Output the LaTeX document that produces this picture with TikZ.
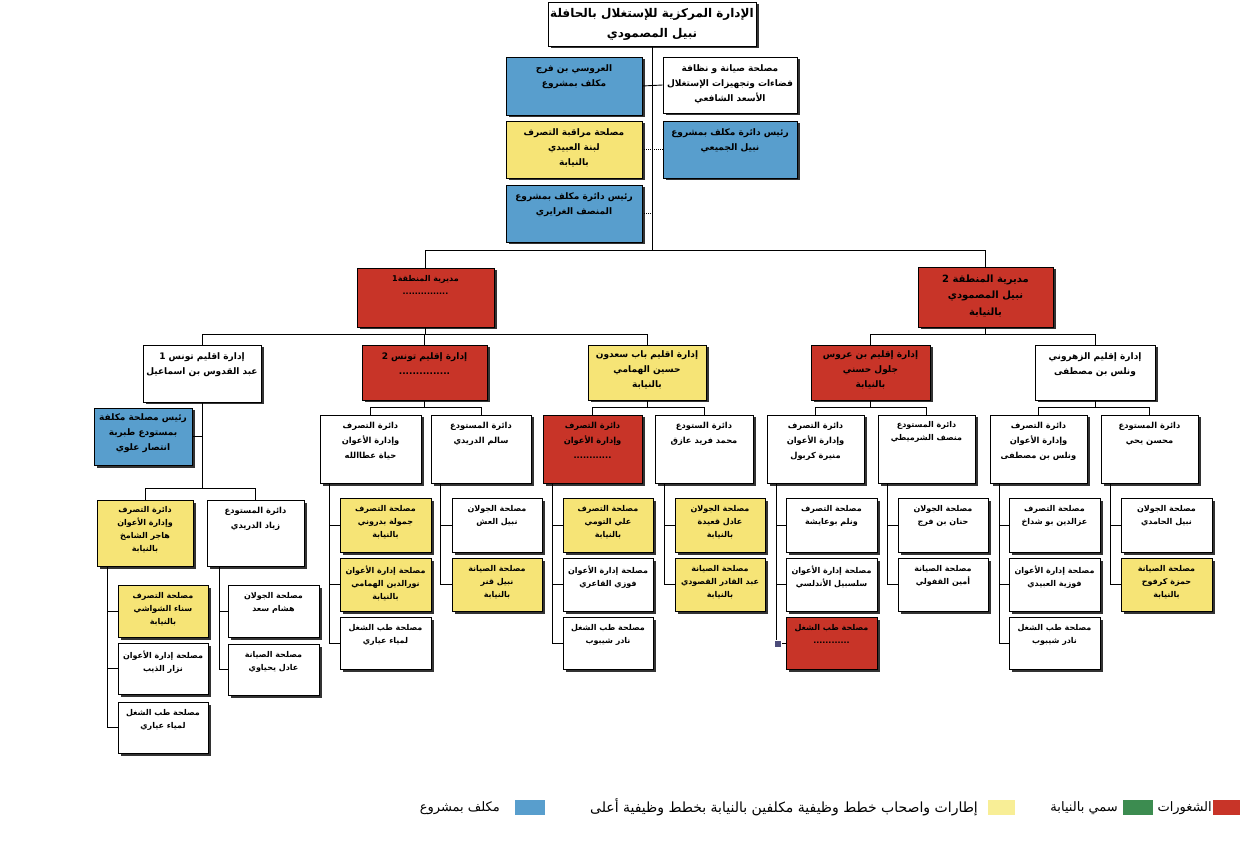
\documentclass[tikz,border=0pt]{standalone}
\usepackage{fontspec}
\newfontfamily\arabicfont[Script=Arabic]{DejaVu Sans}
\TeXXeTstate=1
\usetikzlibrary{shadows,fit}
\definecolor{cred}{RGB}{200,52,40}
\definecolor{cyel}{RGB}{246,228,118}
\definecolor{cblue}{RGB}{88,158,205}
\definecolor{cgreen}{RGB}{60,140,80}
\definecolor{clyel}{RGB}{248,238,150}
\newcommand\AR[1]{\beginR #1\endR}
\tikzset{
  boxbase/.style={draw=black,line width=0.7pt,inner sep=0pt,
    drop shadow={shadow xshift=2.5pt,shadow yshift=-2.5pt,fill=black!80,opacity=1}},
  txt/.style={anchor=north,align=center,inner sep=0pt,
    font=\arabicfont\bfseries\fontsize{8}{13}\selectfont},
  txtA/.style={txt,font=\arabicfont\bfseries\fontsize{8.3}{15}\selectfont},
  txtB/.style={txt,font=\arabicfont\bfseries\fontsize{9}{15}\selectfont},
  bigtxt/.style={txt,font=\arabicfont\bfseries\fontsize{12}{20}\selectfont},
  midtxt/.style={txt,font=\arabicfont\bfseries\fontsize{10}{16.5}\selectfont},
  conn/.style={draw=black,line width=0.9pt},
  dconn/.style={conn,densely dotted},
  legtxt/.style={anchor=east,inner sep=0pt,font=\arabicfont\fontsize{13}{15}\selectfont},
  legsq/.style={inner sep=0pt,draw=none},
}
% name, x1,y1,x2,y2, fill, text, text style, yshift
\newcommand\obox[9]{%
  \node[boxbase,#6,fit={(#2,#3) (#4,#5)}] (#1) {};
  \node[#8] (#1t) at ([yshift=-#9pt]#1.north) {#7};}
\begin{document}
\begin{tikzpicture}[x=1pt,y=-1pt]
\useasboundingbox[fill=white] (0,0) rectangle (1254,842);

% ---------- top ----------
\obox{title}{548}{2}{756}{46}{fill=white}{\AR{الإدارة المركزية للإستغلال بالحافلة}\\\AR{نبيل المصمودي}}{bigtxt}{7}
\coordinate (bus) at (652,250);
\draw[conn] (title.south) -- (bus);

\obox{B1}{506}{57}{642}{115}{fill=cblue}{\AR{العروسي بن فرج}\\\AR{مكلف بمشروع}}{txtB}{8}
\obox{W1}{663}{57}{797}{113}{fill=white}{\AR{مصلحة صيانة و نظافة}\\\AR{فضاءات وتجهيزات الإستغلال}\\\AR{الأسعد الشافعي}}{txtB}{8}
\obox{Y1}{506}{121}{642}{178}{fill=cyel}{\AR{مصلحة مراقبة التصرف}\\\AR{لبنة العبيدي}\\\AR{بالنيابة}}{txtB}{8}
\obox{B2}{663}{121}{797}{178}{fill=cblue}{\AR{رئيس دائرة مكلف بمشروع}\\\AR{نبيل الجميعي}}{txtB}{8}
\obox{B3}{506}{185}{642}{242}{fill=cblue}{\AR{رئيس دائرة مكلف بمشروع}\\\AR{المنصف الغرايري}}{txtB}{8}
\draw[conn] (B1.east) -- (W1.west);
\draw[dconn] (Y1.east) -- (Y1.east -| title.south);
\draw[dconn] (B2.west) -- (B2.west -| title.south);
\draw[dconn] (B3.east) -- (B3.east -| title.south);

% ---------- regions ----------
\obox{R1}{357}{268}{494}{327}{fill=cred}{\AR{مديرية المنطقة1}\\\AR{...............}}{txt}{8}
\obox{R2}{918}{267}{1053}{327}{fill=cred}{\AR{مديرية المنطقة 2}\\\AR{نبيل المصمودي}\\\AR{بالنيابة}}{midtxt}{8}
\draw[conn] (bus) -| (R1.north);
\draw[conn] (bus) -| (R2.north);

% ---------- level 3 ----------
\obox{T1}{143}{345}{261}{402}{fill=white}{\AR{إدارة اقليم تونس 1}\\\AR{عبد القدوس بن اسماعيل}}{txtB}{8}
\obox{T2}{362}{345}{487}{400}{fill=cred}{\AR{إدارة إقليم تونس 2}\\\AR{...............}}{txtB}{8}
\obox{BS}{588}{345}{706}{400}{fill=cyel}{\AR{إدارة اقليم باب سعدون}\\\AR{حسين الهمامي}\\\AR{بالنيابة}}{txtB}{6}
\obox{BA}{811}{345}{930}{400}{fill=cred}{\AR{إدارة إقليم بن عروس}\\\AR{جلول حسني}\\\AR{بالنيابة}}{txtB}{6}
\obox{ZH}{1035}{345}{1155}{400}{fill=white}{\AR{إدارة إقليم الزهروني}\\\AR{ونلس بن مصطفى}}{txtB}{8}
\draw[conn] (R1.south) -- ++(0,7) -| (T1.north);
\draw[conn] (R1.south) -- ++(0,7) -| (T2.north);
\draw[conn] (R1.south) -- ++(0,7) -| (BS.north);
\draw[conn] (R2.south) -- ++(0,7) -| (BA.north);
\draw[conn] (R2.south) -- ++(0,7) -| (ZH.north);

% ---------- Tunis 1 subtree ----------
\obox{T1c}{94}{408}{192}{465}{fill=cblue}{\AR{رئيس مصلحة مكلفة}\\\AR{بمستودع طبربة}\\\AR{انتصار علوي}}{txtB}{6}
\draw[conn] (T1c.east) -- (T1c.east -| T1.south);
\obox{T1a}{97}{500}{193}{566}{fill=cyel}{\AR{دائرة التصرف}\\\AR{وإدارة الأعوان}\\\AR{هاجر الشامخ}\\\AR{بالنيابة}}{txt}{7}
\obox{T1b}{207}{500}{304}{566}{fill=white}{\AR{دائرة المستودع}\\\AR{زياد الدريدي}}{txtA}{7}
\draw[conn] (T1.south) -- ++(0,86) -| (T1a.north);
\draw[conn] (T1.south) -- ++(0,86) -| (T1b.north);
\obox{T1a1}{118}{585}{208}{637}{fill=cyel}{\AR{مصلحة التصرف}\\\AR{سناء الشواشي}\\\AR{بالنيابة}}{txt}{8}
\obox{T1a2}{118}{643}{208}{694}{fill=white}{\AR{مصلحة إدارة الأعوان}\\\AR{نزار الذيب}}{txt}{8}
\obox{T1a3}{118}{702}{208}{753}{fill=white}{\AR{مصلحة طب الشغل}\\\AR{لمياء عياري}}{txt}{8}
\obox{T1b1}{228}{585}{319}{637}{fill=white}{\AR{مصلحة الجولان}\\\AR{هشام سعد}}{txt}{8}
\obox{T1b2}{228}{644}{319}{695}{fill=white}{\AR{مصلحة الصيانة}\\\AR{عادل يحياوي}}{txt}{8}
\foreach \c in {T1a1,T1a2,T1a3}{\draw[conn] (\c.west) -| ([xshift=11pt]T1a.south west);}
\foreach \c in {T1b1,T1b2}{\draw[conn] (\c.west) -| ([xshift=13pt]T1b.south west);}

% ---------- level 4 ----------
\obox{T2a}{320}{415}{421}{483}{fill=white}{\AR{دائرة التصرف}\\\AR{وإدارة الأعوان}\\\AR{حياة عطاالله}}{txtA}{7}
\obox{T2b}{431}{415}{531}{483}{fill=white}{\AR{دائرة المستودع}\\\AR{سالم الدريدي}}{txtA}{7}
\obox{BSa}{543}{415}{642}{483}{fill=cred}{\AR{دائرة التصرف}\\\AR{وإدارة الأعوان}\\\AR{............}}{txtA}{7}
\obox{BSb}{655}{415}{753}{483}{fill=white}{\AR{دائرة الستودع}\\\AR{محمد فريد عازق}}{txtA}{7}
\obox{BAa}{767}{415}{864}{483}{fill=white}{\AR{دائرة التصرف}\\\AR{وإدارة الأعوان}\\\AR{منيرة كربول}}{txtA}{7}
\obox{BAb}{878}{415}{975}{483}{fill=white}{\AR{دائرة المستودع}\\\AR{منصف الشرميطي}}{txt}{7}
\obox{ZHa}{990}{415}{1087}{483}{fill=white}{\AR{دائرة التصرف}\\\AR{وإدارة الأعوان}\\\AR{ونلس بن مصطفى}}{txtA}{7}
\obox{ZHb}{1101}{415}{1198}{483}{fill=white}{\AR{دائرة المستودع}\\\AR{محسن يحي}}{txtA}{7}
\foreach \p/\a/\b in {T2/T2a/T2b,BS/BSa/BSb,BA/BAa/BAb,ZH/ZHa/ZHb}{
  \draw[conn] (\p.south) -- ++(0,7) -| (\a.north);
  \draw[conn] (\p.south) -- ++(0,7) -| (\b.north);}

% ---------- level 5 ----------
\obox{T2a1}{340}{498}{431}{552}{fill=cyel}{\AR{مصلحة التصرف}\\\AR{جمولة بدروني}\\\AR{بالنيابة}}{txt}{8}
\obox{T2a2}{340}{558}{431}{611}{fill=cyel}{\AR{مصلحة إدارة الأعوان}\\\AR{نورالدين الهمامي}\\\AR{بالنيابة}}{txt}{8}
\obox{T2a3}{340}{617}{431}{669}{fill=white}{\AR{مصلحة طب الشغل}\\\AR{لمياء عياري}}{txt}{8}
\obox{T2b1}{452}{498}{542}{552}{fill=white}{\AR{مصلحة الجولان}\\\AR{نبيل العش}}{txt}{8}
\obox{T2b2}{452}{558}{542}{611}{fill=cyel}{\AR{مصلحة الصيانة}\\\AR{نبيل قنر}\\\AR{بالنيابة}}{txt}{8}
\obox{BSa1}{563}{498}{653}{552}{fill=cyel}{\AR{مصلحة التصرف}\\\AR{علي التومي}\\\AR{بالنيابة}}{txt}{8}
\obox{BSa2}{563}{558}{653}{611}{fill=white}{\AR{مصلحة إدارة الأعوان}\\\AR{فوزي القاعري}}{txt}{8}
\obox{BSa3}{563}{617}{653}{669}{fill=white}{\AR{مصلحة طب الشغل}\\\AR{نادر شيبوب}}{txt}{8}
\obox{BSb1}{675}{498}{765}{552}{fill=cyel}{\AR{مصلحة الجولان}\\\AR{عادل قعيدة}\\\AR{بالنيابة}}{txt}{8}
\obox{BSb2}{675}{558}{765}{611}{fill=cyel}{\AR{مصلحة الصيانة}\\\AR{عبد القادر القصودي}\\\AR{بالنيابة}}{txt}{8}
\obox{BAa1}{786}{498}{877}{552}{fill=white}{\AR{مصلحة التصرف}\\\AR{ونلم بوعايشة}}{txt}{8}
\obox{BAa2}{786}{558}{877}{611}{fill=white}{\AR{مصلحة إدارة الأعوان}\\\AR{سلسبيل الأندلسي}}{txt}{8}
\obox{BAa3}{786}{617}{877}{669}{fill=cred}{\AR{مصلحة طب الشغل}\\\AR{............}}{txt}{8}
\obox{BAb1}{898}{498}{988}{552}{fill=white}{\AR{مصلحة الجولان}\\\AR{حنان بن فرج}}{txt}{8}
\obox{BAb2}{898}{558}{988}{611}{fill=white}{\AR{مصلحة الصيانة}\\\AR{أمين القفولي}}{txt}{8}
\obox{ZHa1}{1009}{498}{1100}{552}{fill=white}{\AR{مصلحة التصرف}\\\AR{عزالدين بو شداخ}}{txt}{8}
\obox{ZHa2}{1009}{558}{1100}{611}{fill=white}{\AR{مصلحة إدارة الأعوان}\\\AR{فوزية العبيدي}}{txt}{8}
\obox{ZHa3}{1009}{617}{1100}{669}{fill=white}{\AR{مصلحة طب الشغل}\\\AR{نادر شيبوب}}{txt}{8}
\obox{ZHb1}{1121}{498}{1212}{552}{fill=white}{\AR{مصلحة الجولان}\\\AR{نبيل الحامدي}}{txt}{8}
\obox{ZHb2}{1121}{558}{1212}{611}{fill=cyel}{\AR{مصلحة الصيانة}\\\AR{حمزة كرفوح}\\\AR{بالنيابة}}{txt}{8}
\foreach \p/\cs in {T2a/{T2a1,T2a2,T2a3},T2b/{T2b1,T2b2},BSa/{BSa1,BSa2,BSa3},BSb/{BSb1,BSb2},
  BAa/{BAa1,BAa2,BAa3},BAb/{BAb1,BAb2},ZHa/{ZHa1,ZHa2,ZHa3},ZHb/{ZHb1,ZHb2}}{
  \foreach \c in \cs {\draw[conn] (\c.west) -| ([xshift=10pt]\p.south west);}}
\fill[fill=black!55!blue!40!gray,draw=white,line width=0.4pt] (774,640) rectangle (781,647);

% ---------- legend ----------
\node[legsq,fill=cred,minimum width=27pt,minimum height=15pt,anchor=north west] (lr) at (1213,800) {};
\node[legtxt] (lrt) at ([xshift=-1pt]lr.west) {\AR{الشغورات}};
\node[legsq,fill=cgreen,minimum width=30pt,minimum height=15pt,anchor=north west] (lg) at (1123,800) {};
\node[legtxt] (lgt) at ([xshift=-5pt]lg.west) {\AR{سمي بالنيابة}};
\node[legsq,fill=clyel,minimum width=27pt,minimum height=15pt,anchor=north west] (ly) at (988,800) {};
\node[legtxt,font=\arabicfont\fontsize{14}{16}\selectfont] (lyt) at ([xshift=-10pt]ly.west) {\AR{إطارات واصحاب خطط وظيفية مكلفين بالنيابة بخطط وظيفية أعلى}};
\node[legsq,fill=cblue,minimum width=30pt,minimum height=15pt,anchor=north west] (lb) at (515,800) {};
\node[legtxt] (lbt) at ([xshift=-15pt]lb.west) {\AR{مكلف بمشروع}};
\end{tikzpicture}
\end{document}
